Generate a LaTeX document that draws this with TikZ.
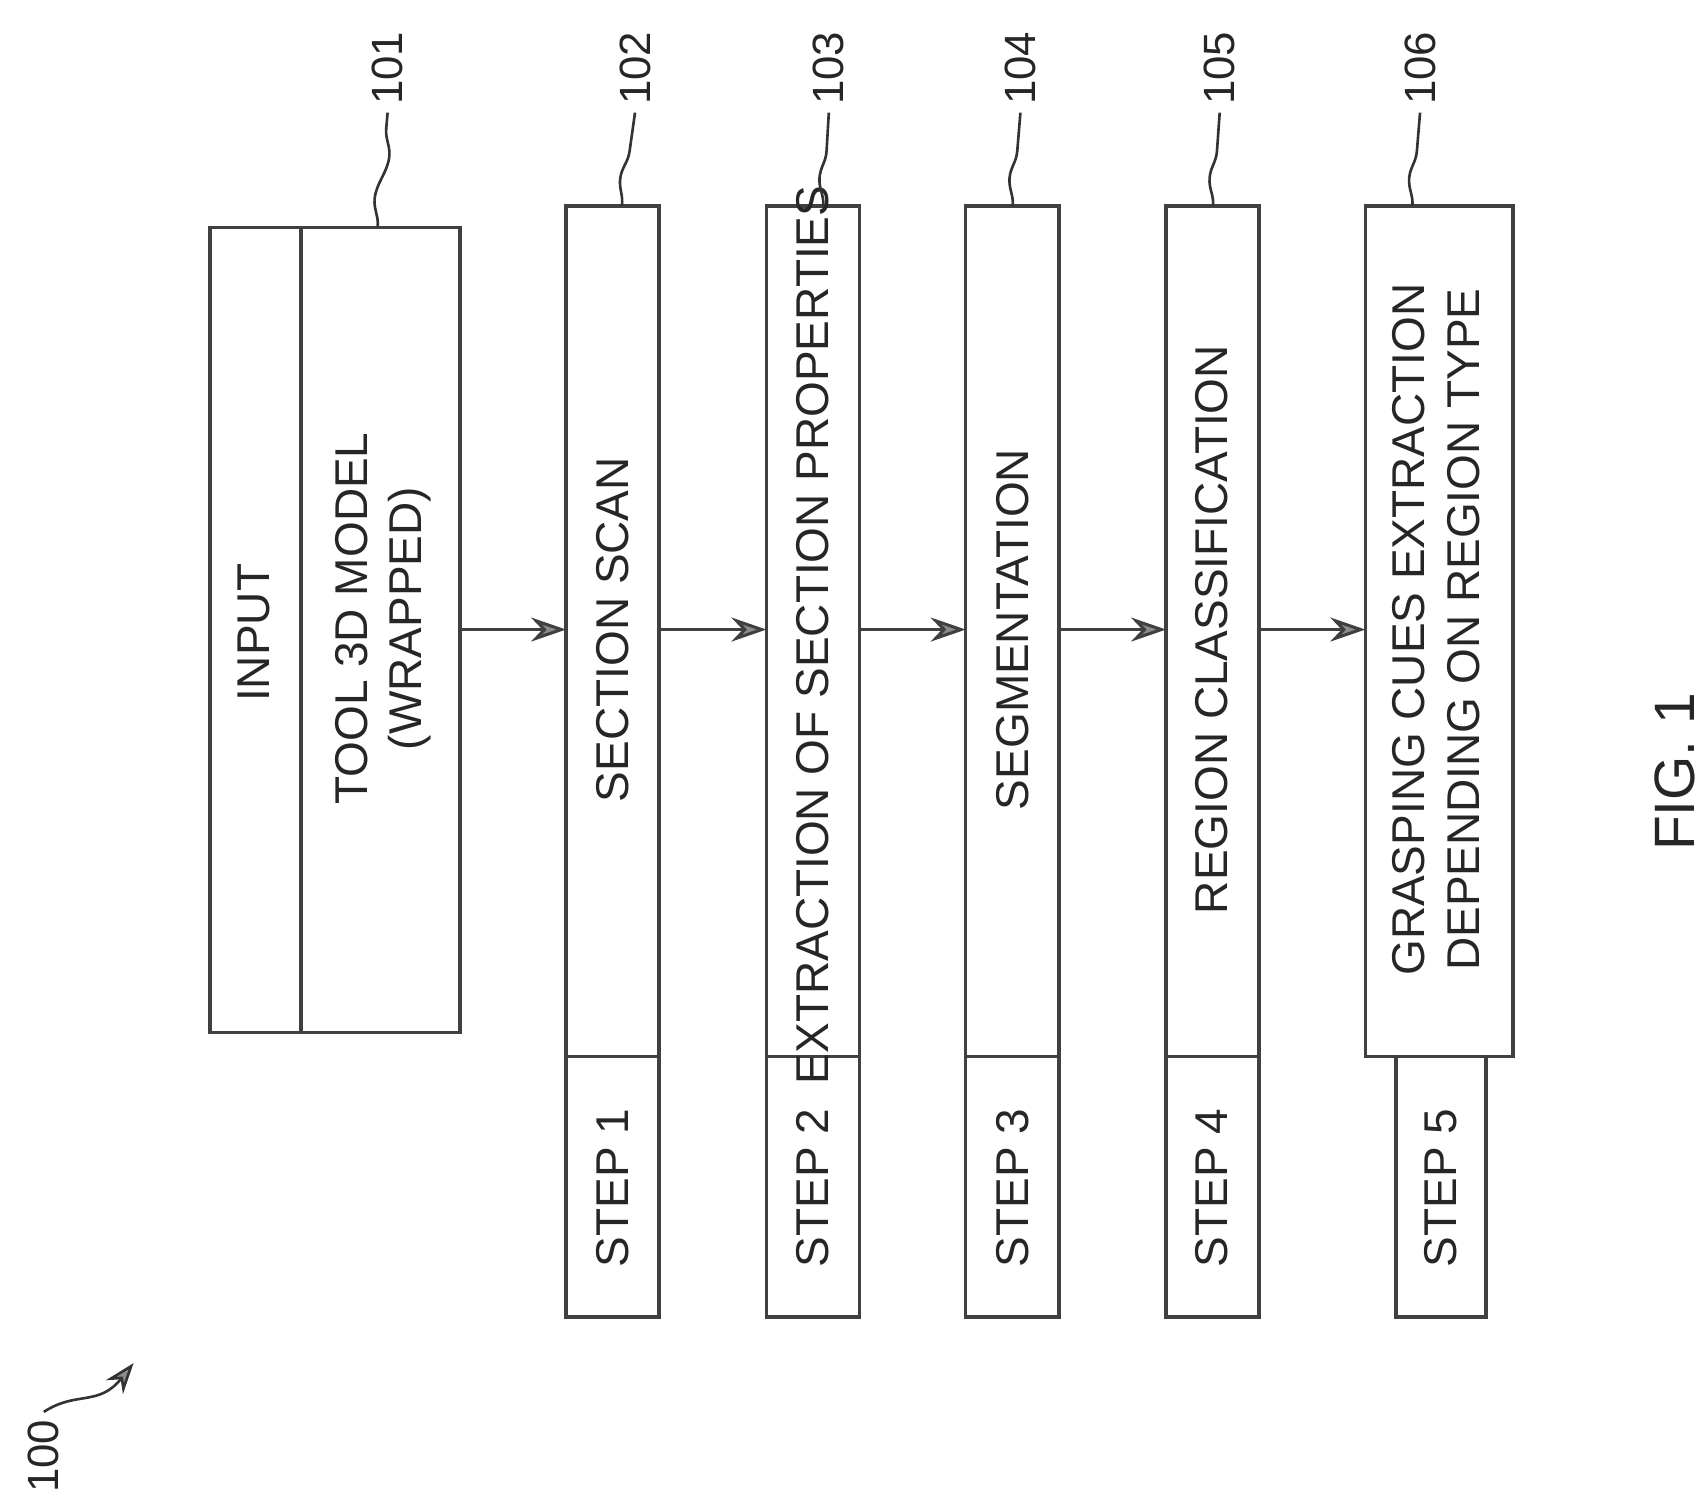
\documentclass[tikz,border=0pt]{standalone}
\usepackage{fontspec}
\setmainfont{Liberation Sans}
\usetikzlibrary{arrows.meta,decorations.pathmorphing}
\begin{document}
\begin{tikzpicture}[x=0.5pt,y=-0.5pt,
  box/.style={draw=black!75,line width=1.6pt},
  txt/.style={rotate=90,font=\fontsize{21}{25}\selectfont,text=black!85},
  lbl/.style={rotate=90,font=\fontsize{20}{24}\selectfont,text=black!85},
  arr/.style={draw=black!75,line width=1.4pt,-{Stealth[length=16pt,width=11pt,fill=black!45]}},
  lead/.style={draw=black!80,line width=1.2pt,decorate,decoration={snake,amplitude=2.5pt,segment length=40pt}}]
\useasboundingbox (0,0) rectangle (1560,1371);
% box 101
\draw[box] (192,208) rectangle (420,943);
\draw[box] (275,208) -- (275,943);
\node[txt] (in) at (232,578) {INPUT};
\node[txt,align=center] (tool) at (350,565) {TOOL 3D MODEL\\(WRAPPED)};
\coordinate (b101) at (420,575);
% step boxes
\foreach \i/\x in {2/517,3/700,4/882,5/1065}{
  \draw[box] (\x,188) rectangle (\x+85,1203);
  \draw[box] (\x,965) -- (\x+85,965);
}
\draw[box] (1247,188) rectangle (1382,965);
\draw[box] (1275,965) -- (1275,1203) -- (1357,1203) -- (1357,965);
\coordinate (L102) at (517,575); \coordinate (R102) at (602,575);
\coordinate (L103) at (700,575); \coordinate (R103) at (785,575);
\coordinate (L104) at (882,575); \coordinate (R104) at (967,575);
\coordinate (L105) at (1065,575); \coordinate (R105) at (1150,575);
\coordinate (L106) at (1247,575);
\node[txt] (t102) at (560,575) {SECTION SCAN};
\node[txt] (t103) at (742,580) {EXTRACTION OF SECTION PROPERTIES};
\node[txt] (t104) at (925,575) {SEGMENTATION};
\node[txt] (t105) at (1107,575) {REGION CLASSIFICATION};
\node[txt,align=center] (t106) at (1312,575) {GRASPING CUES EXTRACTION\\DEPENDING ON REGION TYPE};
\node[txt] (s1) at (560,1085) {STEP 1};
\node[txt] (s2) at (742,1085) {STEP 2};
\node[txt] (s3) at (925,1085) {STEP 3};
\node[txt] (s4) at (1107,1085) {STEP 4};
\node[txt] (s5) at (1316,1085) {STEP 5};
\draw[arr] (b101) -- (L102);
\draw[arr] (R102) -- (L103);
\draw[arr] (R103) -- (L104);
\draw[arr] (R104) -- (L105);
\draw[arr] (R105) -- (L106);
% reference labels
\foreach \n/\x/\bx/\by in {101/352/345/207,102/578/568/188,103/755/752/188,104/930/925/188,105/1112/1108/188,106/1295/1290/188}{
  \node[lbl,anchor=east] (n\n) at (\x+2,22) {\n};
  \coordinate (c\n) at (\bx,\by);
  \draw[lead] (c\n) -- (n\n.west);
}
\node[txt,font=\fontsize{26}{30}\selectfont] (fig) at (1530,705) {FIG. 1};
\node[lbl] (n100) at (40,1330) {100};
\coordinate (a100) at (122,1245);
\draw[draw=black!80,line width=1.2pt,-{Stealth[length=14pt,width=10pt,fill=black!45]}] (n100.east) .. controls (70,1270) and (90,1285) .. (a100);
\end{tikzpicture}
\end{document}
